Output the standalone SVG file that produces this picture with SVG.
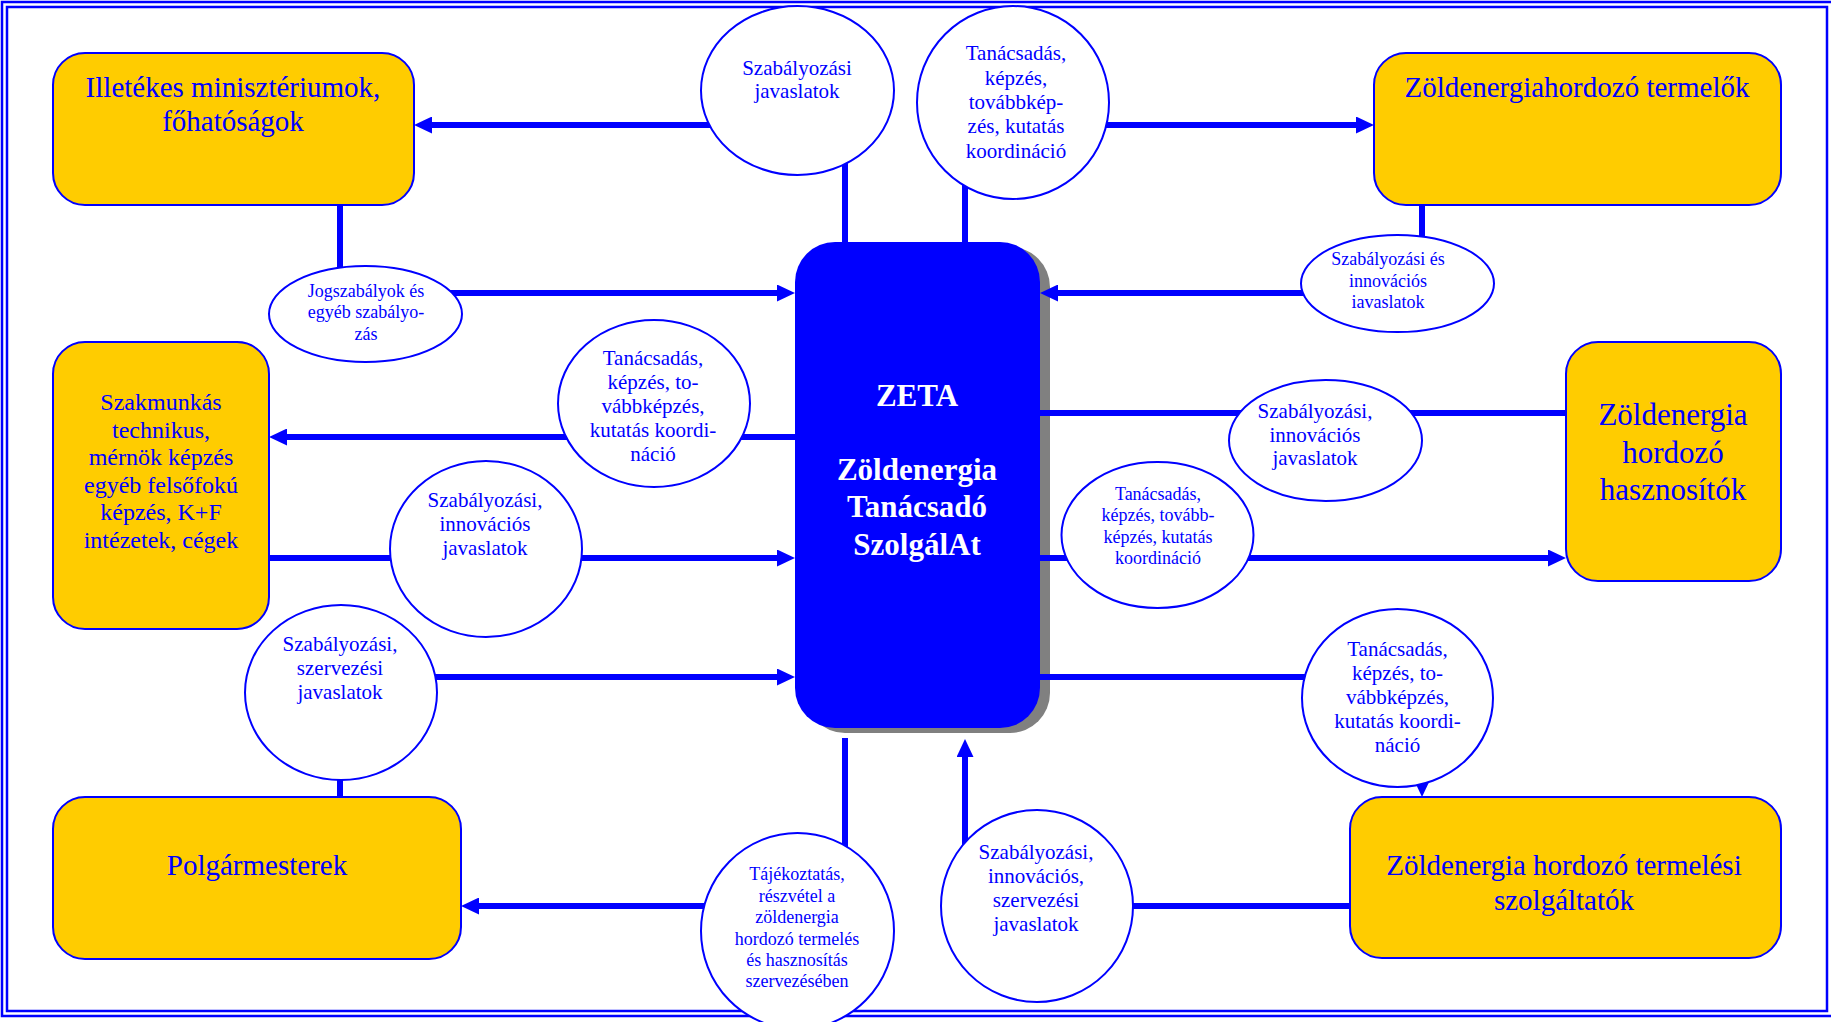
<svg xmlns="http://www.w3.org/2000/svg" width="1831" height="1022" viewBox="0 0 1831 1022">
<style>
.frame{fill:none;stroke:#0000FF;stroke-width:2.5}
.box{fill:#FFCC00;stroke:#0000FF;stroke-width:2}
.ell{fill:#FFFFFF;stroke:#0000FF;stroke-width:2}
.ln{stroke:#0000FF;stroke-width:6;fill:none}
.t{font-family:"Liberation Serif","Times New Roman",serif;fill:#0000FF;text-anchor:middle}
.big{font-size:29px}
.mid{font-size:24px}
.e21{font-size:21px}
.e18{font-size:18px}
.z{font-family:"Liberation Serif","Times New Roman",serif;fill:#FFFFFF;font-weight:bold;font-size:31px;text-anchor:middle}
</style>
<defs>
<marker id="ah" viewBox="0 0 18 17" refX="0" refY="8.5" markerWidth="18" markerHeight="17" markerUnits="userSpaceOnUse" orient="auto">
<path d="M0,0 L18,8.5 L0,17 z" fill="#0000FF"/>
</marker>
</defs>
<rect width="1831" height="1022" fill="#FFFFFF"/>
<g id="frame">
<rect class="frame" x="2" y="2" width="1835" height="1014"/>
<rect class="frame" x="7" y="7" width="1820" height="1004"/>
</g>
<g id="zeta">
<rect x="805" y="247" width="245" height="486" rx="40" ry="40" fill="#808080"/>
<rect x="795" y="242" width="245" height="486" rx="40" ry="40" fill="#0000FF"/>
<text class="z" x="917" y="406">ZETA</text>
<text class="z" x="917" y="480">Zöldenergia</text>
<text class="z" x="917" y="517">Tanácsadó</text>
<text class="z" x="917" y="555">SzolgálAt</text>
</g>
<g id="connectors">
<line class="ln" x1="720" y1="125" x2="432" y2="125" marker-end="url(#ah)"/>
<line class="ln" x1="845" y1="160" x2="845" y2="243"/>
<line class="ln" x1="1100" y1="125" x2="1356" y2="125" marker-end="url(#ah)"/>
<line class="ln" x1="965" y1="180" x2="965" y2="243"/>
<line class="ln" x1="340" y1="200" x2="340" y2="272"/>
<line class="ln" x1="450" y1="293" x2="777" y2="293" marker-end="url(#ah)"/>
<line class="ln" x1="1422" y1="200" x2="1422" y2="240"/>
<line class="ln" x1="1310" y1="293" x2="1058" y2="293" marker-end="url(#ah)"/>
<line class="ln" x1="796" y1="437" x2="287" y2="437" marker-end="url(#ah)"/>
<line class="ln" x1="269" y1="558" x2="777" y2="558" marker-end="url(#ah)"/>
<line class="ln" x1="430" y1="677" x2="777" y2="677" marker-end="url(#ah)"/>
<line class="ln" x1="340" y1="775" x2="340" y2="800"/>
<line class="ln" x1="845" y1="738" x2="845" y2="850"/>
<line class="ln" x1="710" y1="906" x2="479" y2="906" marker-end="url(#ah)"/>
<line class="ln" x1="965" y1="850" x2="965" y2="757" marker-end="url(#ah)"/>
<line class="ln" x1="1130" y1="906" x2="1351" y2="906"/>
<line class="ln" x1="1039" y1="677" x2="1310" y2="677"/>
<line class="ln" x1="1422" y1="760" x2="1422" y2="779" marker-end="url(#ah)"/>
<line class="ln" x1="1039" y1="558" x2="1548" y2="558" marker-end="url(#ah)"/>
<line class="ln" x1="1039" y1="413" x2="1567" y2="413"/>
</g>
<g id="n-ministeriumok">
<rect class="box" x="53" y="53" width="361" height="152" rx="32" ry="32"/>
<text class="t big" x="233" y="97">Illetékes minisztériumok,</text>
<text class="t big" x="233" y="131">főhatóságok</text>
</g>
<g id="n-termelok">
<rect class="box" x="1374" y="53" width="407" height="152" rx="32" ry="32"/>
<text class="t big" x="1577" y="97">Zöldenergiahordozó termelők</text>
</g>
<g id="n-szakmunkas">
<rect class="box" x="53" y="342" width="216" height="287" rx="32" ry="32"/>
<text class="t mid" x="161" y="410">Szakmunkás</text>
<text class="t mid" x="161" y="438">technikus,</text>
<text class="t mid" x="161" y="465">mérnök képzés</text>
<text class="t mid" x="161" y="493">egyéb felsőfokú</text>
<text class="t mid" x="161" y="520">képzés, K+F</text>
<text class="t mid" x="161" y="548">intézetek, cégek</text>
</g>
<g id="n-hasznositok">
<rect class="box" x="1566" y="342" width="215" height="239" rx="32" ry="32"/>
<text class="t" style="font-size:31px" x="1673" y="425">Zöldenergia</text>
<text class="t" style="font-size:31px" x="1673" y="463">hordozó</text>
<text class="t" style="font-size:31px" x="1673" y="500">hasznosítók</text>
</g>
<g id="n-polgarmesterek">
<rect class="box" x="53" y="797" width="408" height="162" rx="32" ry="32"/>
<text class="t big" x="257" y="875">Polgármesterek</text>
</g>
<g id="n-szolgaltatok">
<rect class="box" x="1350" y="797" width="431" height="161" rx="32" ry="32"/>
<text class="t big" x="1564" y="875">Zöldenergia hordozó termelési</text>
<text class="t big" x="1564" y="910">szolgáltatók</text>
</g>
<g id="e-szab-javaslatok-top">
<ellipse class="ell" cx="797.5" cy="90.5" rx="96.5" ry="84.5"/>
<text class="t e21" x="797" y="75">Szabályozási</text>
<text class="t e21" x="797" y="98">javaslatok</text>
</g>
<g id="e-tanacsadas-top">
<ellipse class="ell" cx="1013" cy="102.5" rx="96" ry="96.5"/>
<text class="t e21" x="1016" y="60">Tanácsadás,</text>
<text class="t e21" x="1016" y="85">képzés,</text>
<text class="t e21" x="1016" y="109">továbbkép-</text>
<text class="t e21" x="1016" y="133">zés, kutatás</text>
<text class="t e21" x="1016" y="158">koordináció</text>
</g>
<g id="e-jogszabalyok">
<ellipse class="ell" cx="365.5" cy="314" rx="96.5" ry="48"/>
<text class="t e18" x="366" y="297">Jogszabályok és</text>
<text class="t e18" x="366" y="318">egyéb szabályo-</text>
<text class="t e18" x="366" y="340">zás</text>
</g>
<g id="e-szab-innov-top">
<ellipse class="ell" cx="1397.5" cy="283.5" rx="96.5" ry="48.5"/>
<text class="t e18" x="1388" y="265">Szabályozási és</text>
<text class="t e18" x="1388" y="287">innovációs</text>
<text class="t e18" x="1388" y="308">iavaslatok</text>
</g>
<g id="e-tanacsadas-left">
<ellipse class="ell" cx="654" cy="403.5" rx="96" ry="83.5"/>
<text class="t e21" x="653" y="365">Tanácsadás,</text>
<text class="t e21" x="653" y="389">képzés, to-</text>
<text class="t e21" x="653" y="413">vábbképzés,</text>
<text class="t e21" x="653" y="437">kutatás koordi-</text>
<text class="t e21" x="653" y="461">náció</text>
</g>
<g id="e-szab-innov-left">
<ellipse class="ell" cx="486" cy="549" rx="96" ry="88"/>
<text class="t e21" x="485" y="507">Szabályozási,</text>
<text class="t e21" x="485" y="531">innovációs</text>
<text class="t e21" x="485" y="555">javaslatok</text>
</g>
<g id="e-szab-szerv-left">
<ellipse class="ell" cx="341" cy="692.5" rx="96" ry="87.5"/>
<text class="t e21" x="340" y="651">Szabályozási,</text>
<text class="t e21" x="340" y="675">szervezési</text>
<text class="t e21" x="340" y="699">javaslatok</text>
</g>
<g id="e-szab-innov-right">
<ellipse class="ell" cx="1325.5" cy="440.5" rx="96.5" ry="60.5"/>
<text class="t e21" x="1315" y="418">Szabályozási,</text>
<text class="t e21" x="1315" y="441.5">innovációs</text>
<text class="t e21" x="1315" y="465">javaslatok</text>
</g>
<g id="e-tanacsadas-right">
<ellipse class="ell" cx="1157.5" cy="535" rx="96" ry="73"/>
<text class="t e18" x="1158" y="500">Tanácsadás,</text>
<text class="t e18" x="1158" y="521">képzés, tovább-</text>
<text class="t e18" x="1158" y="543">képzés, kutatás</text>
<text class="t e18" x="1158" y="564">koordináció</text>
</g>
<g id="e-tanacsadas-lowright">
<ellipse class="ell" cx="1397.5" cy="698" rx="95.5" ry="89"/>
<text class="t e21" x="1397.5" y="656">Tanácsadás,</text>
<text class="t e21" x="1397.5" y="680">képzés, to-</text>
<text class="t e21" x="1397.5" y="704">vábbképzés,</text>
<text class="t e21" x="1397.5" y="728">kutatás koordi-</text>
<text class="t e21" x="1397.5" y="752">náció</text>
</g>
<g id="e-tajekoztatas">
<ellipse class="ell" cx="797.5" cy="931" rx="96.5" ry="98"/>
<text class="t e18" x="797" y="880">Tájékoztatás,</text>
<text class="t e18" x="797" y="902">részvétel a</text>
<text class="t e18" x="797" y="923">zöldenergia</text>
<text class="t e18" x="797" y="945">hordozó termelés</text>
<text class="t e18" x="797" y="966">és hasznosítás</text>
<text class="t e18" x="797" y="987">szervezésében</text>
</g>
<g id="e-szab-innov-szerv">
<ellipse class="ell" cx="1037" cy="906" rx="96" ry="96"/>
<text class="t e21" x="1036" y="859">Szabályozási,</text>
<text class="t e21" x="1036" y="883">innovációs,</text>
<text class="t e21" x="1036" y="907">szervezési</text>
<text class="t e21" x="1036" y="931">javaslatok</text>
</g>
</svg>
